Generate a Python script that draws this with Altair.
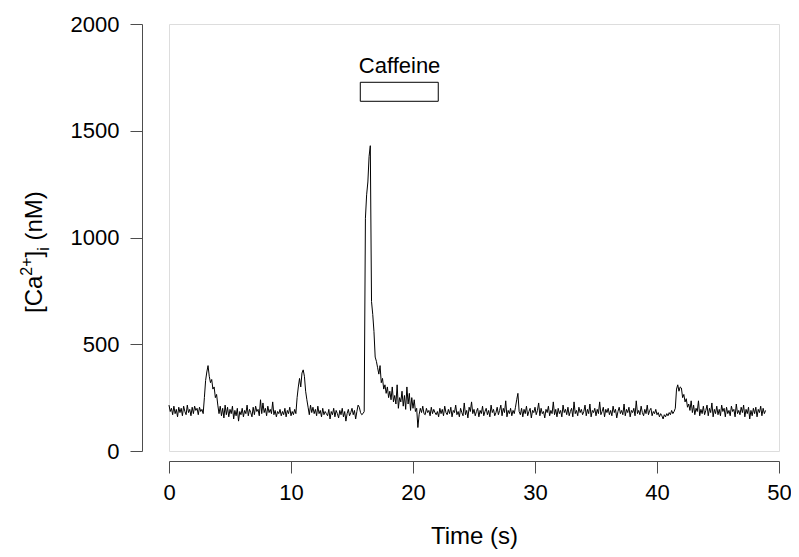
import altair as alt
import pandas as pd

FONT = "Liberation Sans"

# [Ca2+]i trace, one row per second, samples every 0.1 s (nM)
ca_rows = [
    [215, 185, 200, 170, 210, 175, 195, 160, 205, 180],   # 0 s
    [200, 165, 210, 185, 170, 215, 180, 195, 165, 205],   # 1
    [175, 210, 190, 200, 170, 205, 185, 195, 175, 250],   # 2
    [330, 370, 400, 350, 320, 335, 290, 300, 250, 265],   # 3
    [215, 175, 210, 165, 200, 155, 215, 170, 205, 160],   # 4
    [195, 175, 210, 150, 190, 165, 200, 140, 185, 170],   # 5
    [200, 160, 190, 175, 215, 165, 195, 180, 160, 205],   # 6
    [170, 210, 185, 195, 165, 240, 175, 225, 180, 200],   # 7
    [165, 210, 180, 195, 175, 230, 170, 190, 160, 185],   # 8
    [175, 195, 165, 185, 170, 200, 160, 190, 175, 205],   # 9
    [165, 185, 170, 195, 175, 250, 300, 340, 300, 365],   # 10
    [380, 350, 280, 240, 205, 170, 215, 180, 205, 175],   # 11
    [195, 165, 210, 175, 190, 160, 200, 170, 185, 175],   # 12
    [165, 195, 150, 185, 170, 200, 160, 190, 175, 155],   # 13
    [190, 170, 200, 160, 185, 140, 175, 195, 165, 180],   # 14
    [200, 170, 190, 150, 185, 215, 205, 180, 170, 175],   # 15
    [185, 1090, 1200, 1260, 1380, 1430, 700, 640, 560, 440],  # 16
    [420, 390, 360, 400, 320, 340, 290, 310, 270, 300],   # 17
    [250, 280, 240, 300, 230, 260, 220, 310, 200, 250],   # 18
    [230, 280, 210, 260, 195, 300, 220, 270, 190, 250],   # 19
    [200, 240, 185, 200, 110, 170, 200, 180, 210, 175],   # 20
    [170, 200, 180, 190, 165, 205, 175, 195, 180, 170],   # 21
    [185, 160, 200, 175, 195, 165, 210, 180, 170, 195],   # 22
    [175, 205, 160, 190, 180, 215, 170, 185, 160, 200],   # 23
    [180, 165, 225, 170, 190, 155, 205, 185, 230, 175],   # 24
    [195, 165, 185, 200, 160, 190, 175, 210, 165, 185],   # 25
    [200, 170, 190, 160, 215, 180, 195, 165, 180, 205],   # 26
    [170, 190, 215, 165, 200, 180, 235, 160, 190, 175],   # 27
    [200, 165, 190, 175, 205, 240, 270, 185, 170, 200],   # 28
    [160, 195, 175, 210, 165, 185, 200, 155, 190, 180],   # 29
    [205, 170, 190, 225, 165, 200, 175, 185, 155, 195],   # 30
    [180, 210, 165, 190, 175, 230, 170, 195, 160, 200],   # 31
    [175, 190, 160, 215, 180, 195, 170, 205, 165, 185],   # 32
    [200, 160, 230, 175, 190, 165, 205, 180, 195, 170],   # 33
    [185, 215, 165, 195, 175, 220, 160, 190, 180, 200],   # 34
    [165, 195, 175, 230, 170, 185, 205, 160, 195, 180],   # 35
    [200, 170, 190, 165, 210, 180, 195, 155, 185, 205],   # 36
    [175, 190, 170, 220, 165, 195, 180, 205, 160, 190],   # 37
    [180, 200, 165, 235, 175, 190, 170, 210, 180, 165],   # 38
    [195, 175, 215, 170, 190, 200, 165, 185, 175, 195],   # 39
    [170, 180, 160, 175, 165, 150, 170, 160, 175, 165],   # 40
    [180, 170, 190, 175, 185, 200, 290, 310, 280, 300],   # 41
    [295, 250, 265, 230, 245, 205, 220, 190, 235, 180],   # 42
    [215, 170, 200, 185, 235, 165, 195, 175, 210, 170],   # 43
    [190, 215, 165, 200, 180, 225, 160, 195, 175, 210],   # 44
    [170, 195, 165, 215, 185, 200, 160, 205, 175, 190],   # 45
    [165, 210, 185, 195, 160, 220, 175, 190, 170, 205],   # 46
    [180, 215, 160, 195, 175, 205, 150, 190, 165, 200],   # 47
    [175, 205, 160, 195, 180, 210, 165, 200, 175, 190],   # 48
]
SAMPLE_INTERVAL = 0.1  # s

x_ticks = [0, 10, 20, 30, 40, 50]
y_ticks = [0, 500, 1000, 1500, 2000]

caffeine_label = ["Caffeine"]
caffeine_start = [15.68]
caffeine_end = [22.07]
caffeine_low = [1638]
caffeine_high = [1727]
caffeine_text_x = [18.9]
caffeine_text_y = [1771]

ca_values = [v for row in ca_rows for v in row]
times = [round(i * SAMPLE_INTERVAL, 1) for i in range(len(ca_values))]
trace = pd.DataFrame({"t": times, "ca": ca_values})

W, H = 610, 427
AX = "#4d4d4d"
LAB = 22

x_enc = alt.X(
    "t:Q",
    scale=alt.Scale(domain=[0, 50], nice=False, zero=False),
    axis=alt.Axis(
        values=x_ticks, title="Time (s)", grid=False, offset=10, format="d",
        tickSize=12, tickColor=AX, domainColor=AX, tickWidth=1, domainWidth=1,
        labelFont=FONT, labelFontSize=LAB, labelColor="black", labelPadding=9,
        labelFlush=False,
        titleFont=FONT, titleFontSize=24, titleFontWeight="normal",
        titleColor="black", titlePadding=21,
    ),
)
y_enc = alt.Y(
    "ca:Q",
    scale=alt.Scale(domain=[0, 2000], nice=False),
    axis=alt.Axis(
        values=y_ticks, title=None, grid=False, offset=27, format="d",
        tickSize=12, tickColor=AX, domainColor=AX, tickWidth=1, domainWidth=1,
        labelFont=FONT, labelFontSize=LAB, labelColor="black", labelPadding=11,
        labelFlush=False,
    ),
)

line = alt.Chart(trace).mark_line(color="black", strokeWidth=1).encode(x=x_enc, y=y_enc)

box_df = pd.DataFrame({"x": caffeine_start, "x2": caffeine_end,
                       "y": caffeine_low, "y2": caffeine_high})
box = alt.Chart(box_df).mark_rect(fill="white", stroke="black", strokeWidth=1).encode(
    x="x:Q", x2="x2:Q", y="y:Q", y2="y2:Q")

lab_df = pd.DataFrame({"x": caffeine_text_x, "y": caffeine_text_y, "label": caffeine_label})
lab = alt.Chart(lab_df).mark_text(font=FONT, fontSize=22, color="black",
                                  align="center", baseline="alphabetic").encode(
    x="x:Q", y="y:Q", text="label:N")

# y-axis title built from pieces: [Ca  2+  ]  i  (nM)
title_parts = ["[Ca", "2+", "]", "i", "(nM)"]
title_sizes = [24, 16, 24, 16, 24]
title_shift = [0, -10, 0, 7, 0]       # perpendicular offset (super/subscript)
title_gap = [0, 0, 0, 0, 6.7]         # extra space before the part
char_w = {"[": 0.278, "C": 0.722, "a": 0.556, "2": 0.556, "+": 0.584, "]": 0.278,
          "i": 0.222, "(": 0.333, "n": 0.556, "M": 0.833, ")": 0.333}
base_x = -127
pos = 289
title_layers = []
for txt, fs, sh, gap in zip(title_parts, title_sizes, title_shift, title_gap):
    pos -= gap
    d = pd.DataFrame({"label": [txt]})
    title_layers.append(
        alt.Chart(d).mark_text(font=FONT, fontSize=fs, color="black", angle=270,
                               align="left", baseline="alphabetic").encode(
            x=alt.value(base_x + sh), y=alt.value(pos), text="label:N"))
    pos -= sum(char_w[c] for c in txt) * fs

chart = alt.layer(line, box, lab, *title_layers).properties(
    width=W, height=H,
    autosize=alt.AutoSizeParams(type="none"),
    padding={"left": 161, "top": 16, "right": 12, "bottom": 98},
).configure_view(stroke=None).configure(background="white")

chart.save("out.html", embed_options={"renderer": "svg", "actions": False})
